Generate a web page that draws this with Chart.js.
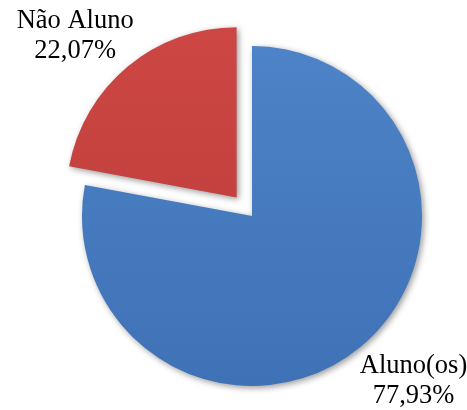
<!DOCTYPE html>
<html>
<head>
<meta charset="utf-8">
<script src="https://cdn.jsdelivr.net/npm/chart.js@4/dist/chart.umd.min.js"></script>
<style>
    html, body { margin: 0; padding: 0; background: #fff; }
    #box { width: 467px; height: 410px; }
</style>
</head>
<body>
<div id="box"><canvas id="pieChart" width="467" height="410"></canvas></div>
<script>
const categories = ['Aluno(os)', 'Não Aluno']
const shares = [77.93, 22.07]
const shareLabels = ['77,93%', '22,07%']

const colorsTop = ['rgb(78,132,201)', 'rgb(206,72,69)']
const colorsBottom = ['rgb(62,112,180)', 'rgb(184,58,56)']

// chart.js draws arcs with offset / 4
const sliceOffset = [0, 96]

const fillFor = (context) => {
    const chart = context.chart
    const area = chart.chartArea
    if (!area) {
        return colorsTop[context.dataIndex]
    }
    const g = chart.ctx.createLinearGradient(0, area.top, 0, area.bottom)
    g.addColorStop(0, colorsTop[context.dataIndex])
    g.addColorStop(1, colorsBottom[context.dataIndex])
    return g
}

// soft drop shadow under the slices
const sliceShadow = {
    id: 'sliceShadow',
    beforeDatasetsDraw (chart) {
        const ctx = chart.ctx
        ctx.save()
        ctx.shadowColor = 'rgba(0,0,0,0.4)'
        ctx.shadowBlur = 6
        ctx.shadowOffsetX = 2
        ctx.shadowOffsetY = 2
    },
    afterDatasetsDraw (chart) {
        chart.ctx.restore()
    },
}

// category + percentage text outside each slice
const outsideLabels = {
    id: 'outsideLabels',
    afterDraw (chart) {
        const ctx = chart.ctx
        const meta = chart.getDatasetMeta(0)
        ctx.save()
        ctx.font = '26.5px "Liberation Serif", "Times New Roman", serif'
        ctx.fillStyle = '#000'
        ctx.textAlign = 'center'
        ctx.textBaseline = 'alphabetic'
        meta.data.forEach((arc, i) => {
            const p = arc.getProps(['x', 'y', 'startAngle', 'endAngle', 'outerRadius'], true)
            const off = sliceOffset[i] / 4
            const mid = (p.startAngle + p.endAngle) / 2
            const cx = p.x + Math.cos(mid) * off
            const cy = p.y + Math.sin(mid) * off
            const a = mid - 5 * Math.PI / 180
            const dist = p.outerRadius * 1.35
            const lx = cx + Math.cos(a) * dist
            const ly = cy + Math.sin(a) * dist
            ctx.fillText(categories[i], lx, ly - 6.5)
            ctx.fillText(shareLabels[i], lx, ly + 23.5)
        })
        ctx.restore()
    },
}

new Chart(document.getElementById('pieChart'), {
    type: 'pie',
    data: {
        labels: categories,
        datasets: [{
            data: shares,
            backgroundColor: fillFor,
            borderWidth: 0,
            offset: sliceOffset,
        }],
    },
    options: {
        responsive: false,
        animation: false,
        radius: 170,
        layout: {
            padding: { left: 37, right: 0, top: 22, bottom: 0 },
        },
        plugins: {
            legend: { display: false },
            tooltip: { enabled: false },
        },
    },
    plugins: [sliceShadow, outsideLabels],
})
</script>
</body>
</html>
